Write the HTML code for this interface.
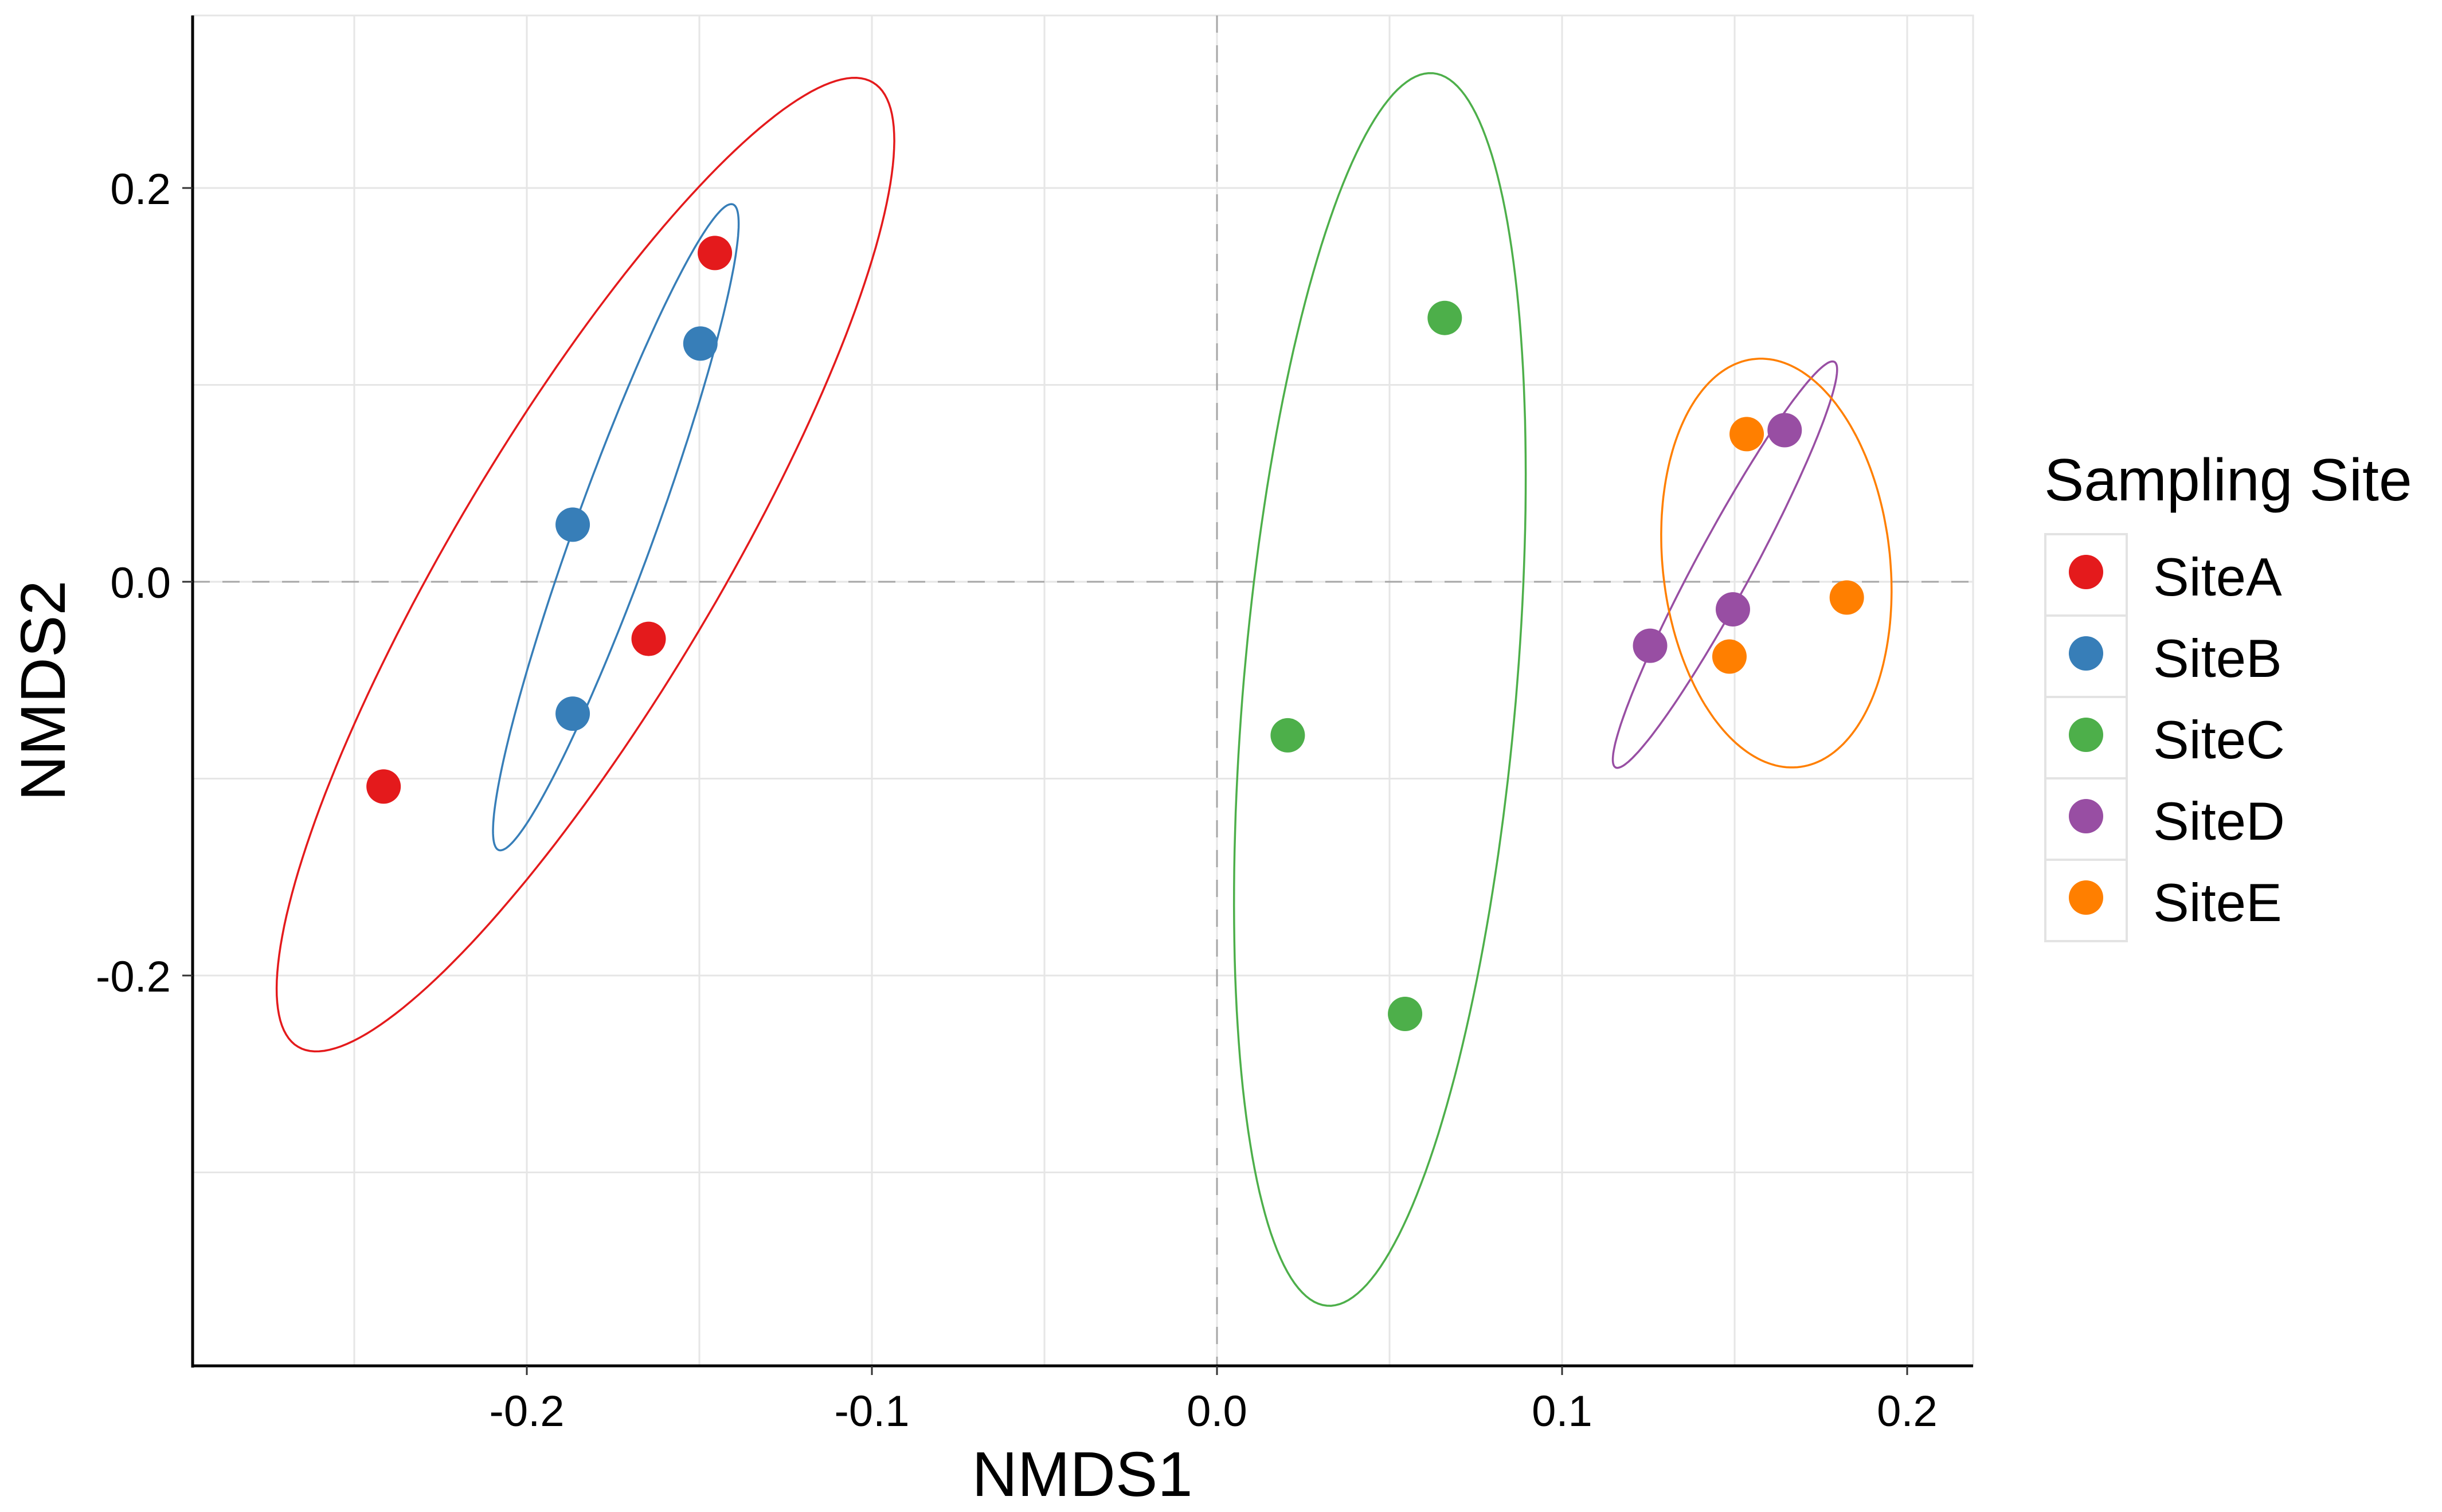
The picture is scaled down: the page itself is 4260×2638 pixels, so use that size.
<!DOCTYPE html>
<html><head><meta charset="utf-8"><style>
html,body{margin:0;padding:0;background:#fff}
svg{display:block;font-family:"Liberation Sans",Arial,sans-serif}
</style></head><body>
<svg id="chart" width="4260" height="2638" viewBox="0 0 4260 2638" xmlns="http://www.w3.org/2000/svg">
<g id="grid"></g>
<g id="refs"></g>
<g id="ellipses"></g>
<g id="points"></g>
<g id="axes"></g>
<g id="legend"></g>
</svg>
<script>
const sites = ["SiteA","SiteB","SiteC","SiteD","SiteE"];
const colors = ["#E41A1C","#377EB8","#4DAF4A","#984EA3","#FF7F00"];
const pointSite = ["SiteA","SiteA","SiteA","SiteB","SiteB","SiteB","SiteC","SiteC","SiteC","SiteD","SiteD","SiteD","SiteE","SiteE","SiteE"];
const nmds1 = [-0.1455,-0.1647,-0.2415,-0.1497,-0.1867,-0.1867,0.066,0.0205,0.0545,0.1645,0.1495,0.1255,0.1535,0.1825,0.1485];
const nmds2 = [0.167,-0.029,-0.104,0.121,0.029,-0.067,0.134,-0.078,-0.2195,0.077,-0.014,-0.0325,0.075,-0.008,-0.038];
// ellipse: center, major half-vector, minor half-vector (data units)
const ellCx = [-0.183,-0.1742,0.0472,0.1472,0.1621];
const ellCy = [0.0087,0.0277,-0.0547,0.0087,0.0095];
const ellUx = [0.0833,0.0339,0.01538,0.0317,-0.005];
const ellUy = [0.2449,0.164,0.313,0.103,0.1038];
const ellVx = [0.0327,0.01086,0.03937,0.00715,0.033];
const ellVy = [-0.0341,-0.00634,-0.00594,-0.00674,0.0016];
const xTicks = [-0.2,-0.1,0.0,0.1,0.2];
const xTickLabels = ["-0.2","-0.1","0.0","0.1","0.2"];
const xMinor = [-0.25,-0.15,-0.05,0.05,0.15];
const yTicks = [0.2,0.0,-0.2];
const yTickLabels = ["0.2","0.0","-0.2"];
const yMinor = [0.1,-0.1,-0.3];

const L=336,R=3442,T=27,B=2383;
const X = v => 2123 + v*6020;
const Y = v => 1015 - v*3435;
const NS="http://www.w3.org/2000/svg";
function mk(parent,tag,attrs,text){const e=document.createElementNS(NS,tag);for(const k in attrs)e.setAttribute(k,attrs[k]);if(text!==undefined)e.textContent=text;parent.appendChild(e);return e;}

const grid=document.getElementById('grid');
mk(grid,'rect',{x:L,y:T,width:R-L,height:B-T,fill:'#fff',stroke:'#e6e6e6','stroke-width':3});
xMinor.concat(xTicks).forEach(v=>{const l=mk(grid,'line',{x1:X(v),x2:X(v),y1:T,y2:B,stroke:'#e6e6e6','stroke-width':3});

});
yMinor.concat(yTicks).forEach(v=>{const l=mk(grid,'line',{x1:L,x2:R,y1:Y(v),y2:Y(v),stroke:'#e6e6e6','stroke-width':3});

});

const refs=document.getElementById('refs');
const rv=mk(refs,'line',{x1:X(0),x2:X(0),y1:T,y2:B,stroke:'#a6a6a6','stroke-width':3,'stroke-dasharray':'30 22'});


const rh=mk(refs,'line',{x1:L,x2:R,y1:Y(0),y2:Y(0),stroke:'#a6a6a6','stroke-width':3,'stroke-dasharray':'30 22'});



const eg=document.getElementById('ellipses');
sites.forEach((s,i)=>{let d='';for(let k=0;k<=200;k++){const t=k/200*2*Math.PI;const x=ellCx[i]+ellUx[i]*Math.cos(t)+ellVx[i]*Math.sin(t);const y=ellCy[i]+ellUy[i]*Math.cos(t)+ellVy[i]*Math.sin(t);d+=(k?'L':'M')+X(x).toFixed(1)+','+Y(y).toFixed(1);}
const p=mk(eg,'path',{d:d+'Z',fill:'none',stroke:colors[i],'stroke-width':3.5});

});

const pg=document.getElementById('points');
nmds1.forEach((v,i)=>{const c=mk(pg,'circle',{cx:X(v),cy:Y(nmds2[i]),r:30,fill:colors[sites.indexOf(pointSite[i])]});

});

const ax=document.getElementById('axes');
mk(ax,'line',{x1:L,x2:L,y1:T,y2:B+3,stroke:'#000','stroke-width':5});
mk(ax,'line',{x1:L-2,x2:R,y1:B,y2:B,stroke:'#000','stroke-width':5});
xTicks.forEach((v,i)=>{mk(ax,'line',{x1:X(v),x2:X(v),y1:B,y2:B+16,stroke:'#333','stroke-width':3});
const t=mk(ax,'text',{x:X(v),y:2488,'font-size':76,'text-anchor':'middle',fill:'#000'},xTickLabels[i]);

});
yTicks.forEach((v,i)=>{mk(ax,'line',{x1:L-18,x2:L,y1:Y(v),y2:Y(v),stroke:'#333','stroke-width':3});
const t=mk(ax,'text',{x:298,y:Y(v)+28,'font-size':76,'text-anchor':'end',fill:'#000'},yTickLabels[i]);

});
const xt=mk(ax,'text',{x:1888,y:2610,'font-size':110,'text-anchor':'middle',fill:'#000'},'NMDS1');


const yt=mk(ax,'text',{x:0,y:0,'font-size':110,'text-anchor':'middle',fill:'#000',transform:'translate(113,1205) rotate(-90)'},'NMDS2');



const lg=document.getElementById('legend');
const lt=mk(lg,'text',{x:3566,y:873,'font-size':104,fill:'#000'},'Sampling Site');


sites.forEach((s,i)=>{const y0=932+i*142;
const g=mk(lg,'g',{});


mk(g,'rect',{x:3568,y:y0,width:142,height:142,fill:'#fff',stroke:'#e3e3e3','stroke-width':4});
mk(g,'circle',{cx:3639,cy:y0+66,r:30,fill:colors[i]});
mk(g,'text',{x:3756,y:y0+107,'font-size':94,fill:'#000'},s);});
</script>
</body></html>
